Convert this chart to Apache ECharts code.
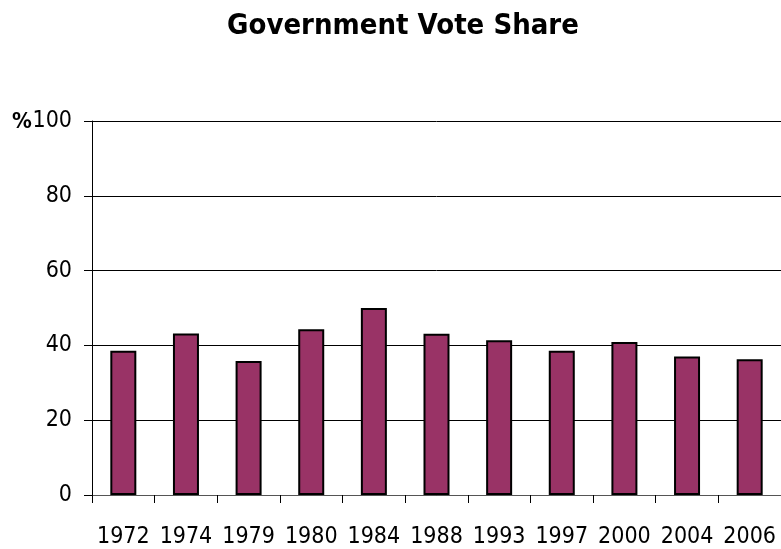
<!DOCTYPE html>
<html>
<head>
<meta charset="utf-8">
<script src="https://cdn.jsdelivr.net/npm/echarts@6/dist/echarts.min.js"></script>
<style>html,body{margin:0;padding:0;background:#fff}#c{width:781px;height:549px}</style>
</head>
<body>
<div id="c"></div>
<script>
const categories = ['1972','1974','1979','1980','1984','1988','1993','1997','2000','2004','2006'];
const voteShare = [38.6, 43.2, 35.8, 44.3, 50.0, 43.1, 41.4, 38.6, 40.9, 37.0, 36.3];
const titleText = 'Government Vote Share';
const yUnit = '%';
const FONT = '"DejaVu Sans Condensed", "Liberation Sans Narrow", sans-serif';

const chart = echarts.init(document.getElementById('c'));
chart.setOption({
  animation: false,
  backgroundColor: '#fff',
  title: {
    text: titleText,
    left: 398,
    textAlign: 'center',
    top: 7,
    textStyle: { fontFamily: FONT, fontSize: 29, fontWeight: 'bold', color: '#000' }
  },
  graphic: [{
    type: 'text',
    left: 12,
    top: 111,
    style: { text: yUnit, fontFamily: FONT, fontSize: 22, fontWeight: 'bold', fill: '#000' }
  }],
  grid: { left: 92, top: 121, width: 694, height: 374, containLabel: false },
  xAxis: {
    type: 'category',
    data: categories,
    axisLine: { show: true, lineStyle: { color: '#555', width: 1 } },
    axisTick: { show: true, length: 8, lineStyle: { color: '#000', width: 1 } },
    axisLabel: { margin: 31, fontFamily: FONT, fontSize: 23, color: '#000', interval: 0 }
  },
  yAxis: {
    type: 'value',
    min: 0, max: 100, interval: 20,
    axisLine: { show: true, lineStyle: { color: '#000', width: 1 } },
    axisTick: { show: true, length: 8, lineStyle: { color: '#000', width: 1 } },
    splitLine: { show: true, lineStyle: { color: '#000', width: 1 } },
    axisLabel: { margin: 20, fontFamily: FONT, fontSize: 23, color: '#000' }
  },
  series: [{
    type: 'bar',
    data: voteShare,
    barWidth: 26,
    itemStyle: { color: '#993366', borderColor: '#000', borderWidth: 2 }
  }]
});
</script>
</body>
</html>
